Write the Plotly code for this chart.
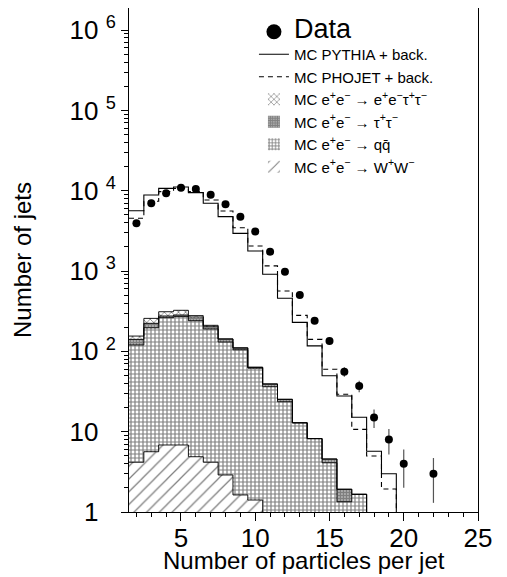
import plotly.graph_objects as go

# ---------------- data ----------------
bin_centers = list(range(2, 21))  # MC bins, width 1

pythia = [5650, 8870, 10700, 11150, 9480, 6980, 4760, 2950, 1780, 912,
          458, 230, 117, 49.8, 27.8, 15.1, 5.7, 3.0, 0]
phojet = [4540, 7400, 9750, 10700, 9750, 7680, 5600, 3470, 2055, 1160,
          565, 281, 141, 59.8, 29.2, 10.7, 4.98, 1.93, 0]

bkg_ww = [4.16, 5.63, 6.83, 6.83, 4.88, 4.16, 2.89, 1.63, 1.41, 0,
          0, 0, 0, 0, 0, 0, 0, 0, 0]
bkg_qq = [116, 191, 256, 264, 236, 186, 128, 103, 60.6, 36.3,
          23.6, 12.9, 8.2, 4.1, 1.34, 1.66, 0, 0, 0]
bkg_tautau = [21, 27, 13, 13, 27, 15, 12, 6, 1.4, 3,
              1.7, 0, 0, 0.47, 0.58, 0, 0, 0, 0]
bkg_eetautau = [14, 34, 36, 41, 11, 6, 0, 0, 0, 0,
                0, 0, 0, 0, 0, 0, 0, 0, 0]

data_x = [2, 3, 4, 5, 6, 7, 8, 9, 10, 11, 12, 13, 14, 15, 16, 17, 18, 19, 20, 22]
data_y = [3940, 6990, 9310, 10900, 10530, 8950, 6800, 4760, 3100, 1745,
          984, 504, 241, 135, 55.9, 37, 15, 8.0, 4.0, 3.0]
data_err = [63, 84, 96, 104, 103, 95, 83, 69, 56, 42,
            31, 22, 16, 12, 7.5, 6.1, 3.9, 2.8, 2.0, 1.7]

y_tickvals = [1, 10, 100, 1000, 10000, 100000, 1000000]
y_ticktext = ["1", "10", "10", "10", "10", "10", "10"]
y_exponents = ["", "", "2", "3", "4", "5", "6"]
x_tickvals = [5, 10, 15, 20, 25]

FONT = "Liberation Sans"

# ---------------- figure ----------------
fig = go.Figure()

bkg = [
    ("MC e<sup>+</sup>e<sup>−</sup> → W<sup>+</sup>W<sup>−</sup>", bkg_ww, "/", 9, 0.14, 7),
    ("MC e<sup>+</sup>e<sup>−</sup> → qq̄", bkg_qq, "+", 4, 0.5, 6),
    ("MC e<sup>+</sup>e<sup>−</sup> → τ<sup>+</sup>τ<sup>−</sup>", bkg_tautau, ".", 3, 0.8, 5),
    ("MC e<sup>+</sup>e<sup>−</sup> → e<sup>+</sup>e<sup>−</sup>τ<sup>+</sup>τ<sup>−</sup>", bkg_eetautau, "x", 5, 0.3, 4),
]
for name, vals, shape, size, sol, rank in bkg:
    fig.add_trace(go.Bar(
        x=bin_centers, y=vals, width=1, name=name,
        marker=dict(color="white", line=dict(color="black", width=0),
                    pattern=dict(shape=shape, size=size, solidity=sol,
                                 fgcolor="black", bgcolor="white")),
        legendrank=rank,
    ))

def step_xy(vals):
    xs = [c - 0.5 for c in bin_centers] + [bin_centers[-1] + 0.5]
    ys = [v if v > 0 else 1e-3 for v in vals]
    ys = ys + [ys[-1]]
    return xs, ys

# outlines of the stacked background components
cum = [0.0] * len(bin_centers)
for name, vals, *_ in bkg:
    cum = [a + b for a, b in zip(cum, vals)]
    sx, sy = step_xy(cum)
    fig.add_trace(go.Scatter(x=sx, y=sy, mode="lines", line_shape="hv",
                             line=dict(color="black", width=0.9),
                             showlegend=False, hoverinfo="skip"))

sx, sy = step_xy(pythia)
fig.add_trace(go.Scatter(x=sx, y=sy, mode="lines", line_shape="hv",
                         line=dict(color="black", width=1.1),
                         name="MC PYTHIA + back.", legendrank=2))
sx, sy = step_xy(phojet)
fig.add_trace(go.Scatter(x=sx, y=sy, mode="lines", line_shape="hv",
                         line=dict(color="black", width=1.1, dash="5px,4px"),
                         name="MC PHOJET + back.", legendrank=3))

fig.add_trace(go.Scatter(
    x=data_x, y=data_y, mode="markers",
    marker=dict(color="black", size=8),
    error_y=dict(type="data", array=data_err, color="#555", thickness=1.2, width=0),
    showlegend=False))
# legend entry for data (bigger symbol)
fig.add_trace(go.Scatter(x=[None], y=[None], mode="markers",
                         marker=dict(color="black", size=15),
                         name="<span style='font-size:27px'>Data</span>",
                         legendrank=1))

ytext = []
for t, e in zip(y_ticktext, y_exponents):
    if e:
        ytext.append(f"{t} <sup>{e}</sup>")
    else:
        ytext.append(f"{t} <sup><span style='color:rgba(0,0,0,0)'>0</span></sup>")

# page body has an 8px margin: the figure is sized so that it fills the window
fig.update_layout(
    width=499, height=569,
    margin=dict(l=121, r=29, t=0, b=65, autoexpand=False),
    paper_bgcolor="white", plot_bgcolor="white",
    barmode="stack", bargap=0,
    font=dict(family=FONT, color="black"),
    showlegend=True,
    legend=dict(x=0.358, y=0.985, xanchor="left", yanchor="top",
                traceorder="normal",
                bgcolor="rgba(0,0,0,0)", font=dict(size=15, family=FONT),
                itemwidth=30, tracegroupgap=0),
    xaxis=dict(range=[1.5, 25], showline=True, linecolor="black", linewidth=1,
               mirror=True, ticks="outside", ticklen=8, tickcolor="black",
               tickvals=x_tickvals, tickfont=dict(size=26), automargin=False,
               ticklabelstandoff=-5,
               minor=dict(dtick=1, ticks="outside", ticklen=4, tickcolor="black"),
               showgrid=False, zeroline=False),
    yaxis=dict(type="log", range=[0, 6.276], showline=True, linecolor="black",
               linewidth=1, mirror=True, ticks="outside", ticklen=7,
               tickcolor="black", tickvals=y_tickvals, ticktext=ytext,
               tickfont=dict(size=26), automargin=False,
               minor=dict(ticks="outside", ticklen=4, tickcolor="black",
                          dtick="D1"),
               showgrid=False, zeroline=False,
               title=dict(text="Number of jets", font=dict(size=24), standoff=31)),
    annotations=[dict(text="Number of particles per jet", xref="paper", yref="paper",
                      x=0.5, y=-0.097, xanchor="center", yanchor="middle",
                      showarrow=False, font=dict(size=24, family=FONT))],
)

fig.write_html("out.html")
